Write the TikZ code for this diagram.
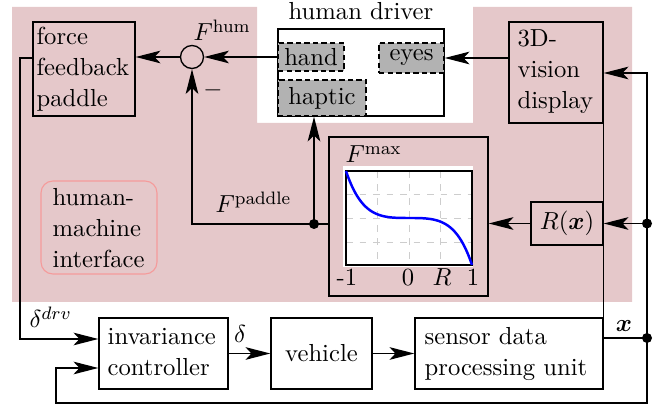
\documentclass[11pt,tikz,border=0pt]{standalone}
\usepackage{bm}
\usetikzlibrary{arrows.meta}
\definecolor{pinkbg}{RGB}{229,200,202}
\definecolor{hmiedge}{RGB}{245,155,155}
\definecolor{boxgray}{RGB}{178,178,178}
\definecolor{gridgray}{RGB}{205,205,205}
\newcommand{\ml}[1]{\begin{tabular}[t]{@{}l@{}}#1\end{tabular}}
\begin{document}
\begin{tikzpicture}[x=0.4444pt, y=-0.4444pt,
  line width=0.6pt,
  >={Stealth[length=11pt,width=5.6pt,inset=2.6pt]},
  bx/.style n args={2}{draw, rectangle, minimum width=#1*0.4444pt, minimum height=#2*0.4444pt, inner sep=0pt},
  sense/.style n args={2}{bx={#1}{#2}, dash pattern=on 2.4pt off 1.4pt, fill=boxgray},
  txt/.style={anchor=base west, inner sep=0pt},
  lbl/.style={anchor=base, inner sep=0pt},
  dotn/.style={circle, fill=black, inner sep=0pt, minimum size=10*0.4444pt},
]
\useasboundingbox (0,0) rectangle (668,407);
% background
\fill[pinkbg] (12,7) -- (257,7) -- (257,123) -- (473,123) -- (473,7) -- (632,7) -- (632,302) -- (12,302) -- cycle;

% top row
\node[bx={102}{94}] (ffp) at (84,69) {};
\node[txt] (ffpt) at (36,45) {\ml{force\\feedback\\paddle}};
\node[bx={94}{101}] (vis) at (556,72.5) {};
\node[txt] (vist) at (517,47) {\ml{3D-\\vision\\display}};
\node[bx={166}{87}, fill=white] (hd) at (361,72.5) {};
\node[lbl] (hdt) at (361,20) {human driver};
\node[sense={66}{28}] (hand) at (311,57) {hand};
\node[sense={65}{30}] (eyes) at (411.5,58) {eyes};
\node[sense={88}{36}] (haptic) at (322,98) {haptic};
\node[draw, circle, minimum size=23*0.4444pt, inner sep=0pt] (sum) at (192,57) {};
\node[txt] (fhum) at (193,41) {$F^{\mathrm{hum}}$};
\node[inner sep=0pt] (minus) at (213,90) {$-$};

% middle
\node[bx={116}{93}, draw=hmiedge, rounded corners=5.3pt, line width=0.5pt] (hmi) at (99,227.5) {};
\node[txt] (hmit) at (52,206) {\ml{human-\\machine\\interface}};
\node[bx={159}{159}] (fmax) at (408.5,216.5) {};
\fill[white] (343,166) rectangle (473,267);
\foreach \gx in {377,409,440} \draw[gridgray, dashed, line width=0.4pt] (\gx,171) -- (\gx,265);
\foreach \gy in {194,218,242} \draw[gridgray, dashed, line width=0.4pt] (346,\gy) -- (472,\gy);
\draw (346,171) rectangle (472,265);
\draw[blue, line width=1.1pt] plot[domain=-1:1, samples=80, smooth] ({409+63*\x}, {218+23.5*(\x*\x*\x+\x*\x*\x*\x*\x)});
\node[txt] (fmaxt) at (345,163) {$F^{\max}$};
\node[lbl] (tk1) at (347,286) {-1};
\node[lbl] (tk2) at (408,286) {0};
\node[lbl] (tk3) at (442,286) {$R$};
\node[lbl] (tk4) at (473,286) {1};
\node[bx={72}{43}] (rx) at (567,223.5) {$R(\bm{x})$};

% bottom row
\node[bx={129}{71}] (inv) at (163.5,353.5) {};
\node[txt] (invt) at (107,345) {\ml{invariance\\controller}};
\node[bx={101}{71}] (veh) at (321.5,353.5) {vehicle};
\node[bx={188}{71}] (sen) at (509,353.5) {};
\node[txt] (sent) at (424,345) {\ml{sensor data\\processing unit}};

% junctions
\coordinate (xd) at (647,338);
\coordinate (rd) at (647,223.5);
\coordinate (pd) at (314,224);
\coordinate (vt) at (647,73);
\coordinate (br) at (647,403);
\coordinate (bl) at (56,403);
\coordinate (bu) at (56,368);
\coordinate (lt) at (20,58);
\coordinate (lb) at (20,339);
\node[dotn] (xdot) at (xd) {};
\node[dotn] (rdot) at (rd) {};
\node[dotn] (pdot) at (pd) {};

% connectors
\draw[->] (hand.west) -- (sum.east);
\draw[->] (sum.west) -- (sum.west -| ffp.east);
\draw[->] (eyes.east -| vis.west) -- (eyes.east);
\draw[->] (xd) -- (vt) -- (vt -| vis.east);
\draw (sen.east |- xd) -- (xd);
\draw[->] (rd) -- (rx.east);
\draw[->] (rx.west) -- (rx.west -| fmax.east);
\draw (fmax.west |- pd) -- (pd);
\draw[->] (pd) -- (pd |- haptic.south);
\draw[->] (pd) -- (sum.south |- pd) -- (sum.south);
\draw (vis.south east) -- (sen.north east);
\draw[->] (xd) -- (br) -- (bl) -- (bu) -- (bu -| inv.west);
\draw[->] (ffp.west |- lt) -- (lt) -- (lb) -- (lb -| inv.west);
\draw[->] (inv.east) -- (veh.west);
\draw[->] (veh.east) -- (sen.west);

% labels
\node[txt] (ldrv) at (29,328) {$\delta^{drv}$};
\node[lbl] (ldel) at (240,343) {$\delta$};
\node[lbl] (lx) at (624,332) {$\bm{x}$};
\node[txt] (lpad) at (215,213) {$F^{\mathrm{paddle}}$};
\end{tikzpicture}
\end{document}
